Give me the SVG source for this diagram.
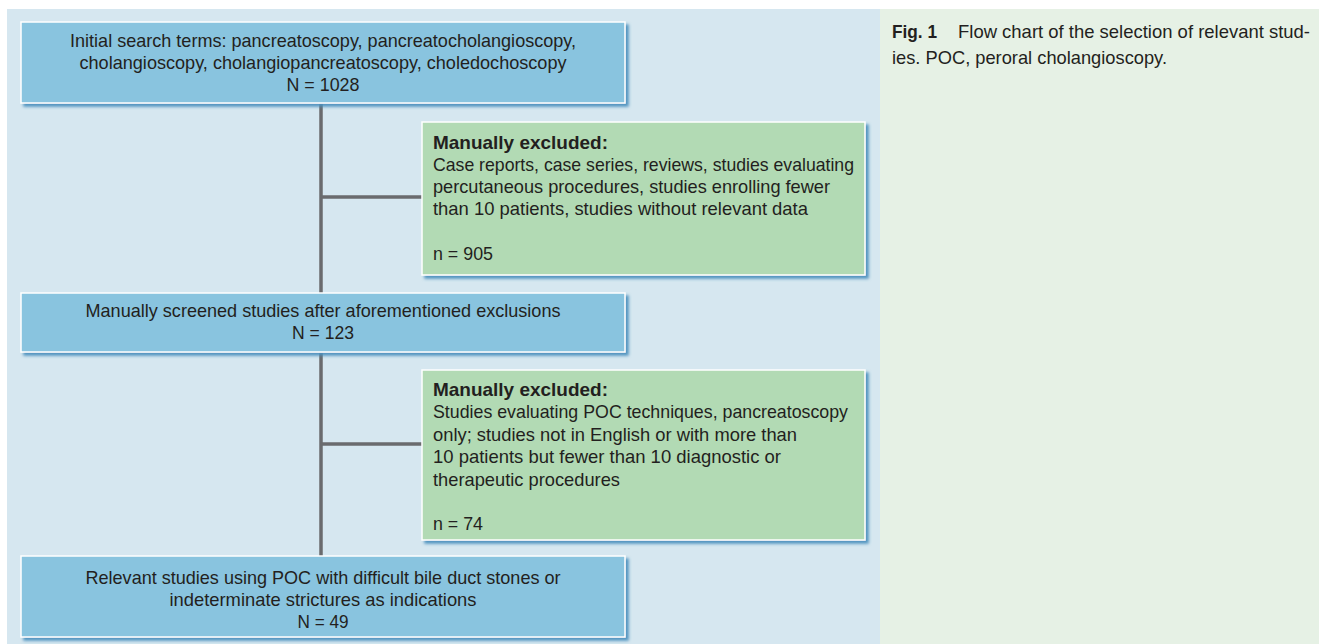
<svg xmlns="http://www.w3.org/2000/svg" width="1319" height="644" viewBox="0 0 1319 644">
<defs>
<filter id="sh" x="-5%" y="-10%" width="115%" height="130%">
<feGaussianBlur in="SourceAlpha" stdDeviation="1.5"/>
<feOffset dx="3" dy="3" result="b"/>
<feFlood flood-color="#4a90bd" flood-opacity="0.95"/>
<feComposite in2="b" operator="in"/>
<feMerge><feMergeNode/><feMergeNode in="SourceGraphic"/></feMerge>
</filter>
</defs>
<style>
.bl{fill:#89c4df;stroke:#ffffff;stroke-width:1.5;filter:url(#sh)}
.gr{fill:#b2dab4;stroke:#ffffff;stroke-width:1.5;filter:url(#sh)}
text{font-family:"Liberation Sans",Arial,sans-serif;font-size:18.5px;fill:#231f20}
.c{text-anchor:middle}
.b{font-weight:bold}
.ln{stroke:#6a6b6e;stroke-width:3.5;fill:none}
</style>
<rect x="0" y="0" width="1319" height="644" fill="#ffffff"/>
<rect x="7" y="9" width="873" height="635" fill="#d6e7f0"/>
<rect x="880" y="9" width="439" height="635" fill="#e6f1e5"/>
<g id="connectors">
<path class="ln" d="M321,103 V556"/>
<path class="ln" d="M321,197 H422"/>
<path class="ln" d="M321,444 H422"/>
</g>
<g id="n1">
<rect class="bl" x="21" y="22" width="604" height="81"/>
<text class="c" x="323" y="47" textLength="506" lengthAdjust="spacingAndGlyphs">Initial search terms: pancreatoscopy, pancreatocholangioscopy,</text>
<text class="c" x="323" y="69" textLength="487" lengthAdjust="spacingAndGlyphs">cholangioscopy, cholangiopancreatoscopy, choledochoscopy</text>
<text class="c" x="323" y="91" textLength="73" lengthAdjust="spacingAndGlyphs">N = 1028</text>
</g>
<g id="n2">
<rect class="gr" x="422" y="122" width="443" height="153"/>
<text class="b" x="433" y="149" textLength="175" lengthAdjust="spacingAndGlyphs">Manually excluded:</text>
<text x="433" y="171" textLength="421" lengthAdjust="spacingAndGlyphs">Case reports, case series, reviews, studies evaluating</text>
<text x="433" y="193" textLength="397" lengthAdjust="spacingAndGlyphs">percutaneous procedures, studies enrolling fewer</text>
<text x="433" y="215" textLength="375" lengthAdjust="spacingAndGlyphs">than 10 patients, studies without relevant data</text>
<text x="433" y="260" textLength="60" lengthAdjust="spacingAndGlyphs">n = 905</text>
</g>
<g id="n3">
<rect class="bl" x="21" y="293" width="604" height="59"/>
<text class="c" x="323" y="317" textLength="475" lengthAdjust="spacingAndGlyphs">Manually screened studies after aforementioned exclusions</text>
<text class="c" x="323" y="339" textLength="62" lengthAdjust="spacingAndGlyphs">N = 123</text>
</g>
<g id="n4">
<rect class="gr" x="422" y="370" width="443" height="170"/>
<text class="b" x="433" y="396" textLength="175" lengthAdjust="spacingAndGlyphs">Manually excluded:</text>
<text x="433" y="418" textLength="415" lengthAdjust="spacingAndGlyphs">Studies evaluating POC techniques, pancreatoscopy</text>
<text x="433" y="441" textLength="364" lengthAdjust="spacingAndGlyphs">only; studies not in English or with more than</text>
<text x="433" y="463" textLength="348" lengthAdjust="spacingAndGlyphs">10 patients but fewer than 10 diagnostic or</text>
<text x="433" y="486" textLength="187" lengthAdjust="spacingAndGlyphs">therapeutic procedures</text>
<text x="433" y="530" textLength="50" lengthAdjust="spacingAndGlyphs">n = 74</text>
</g>
<g id="n5">
<rect class="bl" x="21" y="556" width="604" height="81"/>
<text class="c" x="323" y="584" textLength="475" lengthAdjust="spacingAndGlyphs">Relevant studies using POC with difficult bile duct stones or</text>
<text class="c" x="323" y="606" textLength="307" lengthAdjust="spacingAndGlyphs">indeterminate strictures as indications</text>
<text class="c" x="323" y="628" textLength="51" lengthAdjust="spacingAndGlyphs">N = 49</text>
</g>
<g id="caption">
<text class="b" x="892" y="38" textLength="45" lengthAdjust="spacingAndGlyphs" style="font-size:19px">Fig. 1</text>
<text x="958" y="38" textLength="352" lengthAdjust="spacingAndGlyphs" style="font-size:19px">Flow chart of the selection of relevant stud-</text>
<text x="892" y="64" textLength="275" lengthAdjust="spacingAndGlyphs" style="font-size:19px">ies. POC, peroral cholangioscopy.</text>
</g>
</svg>
